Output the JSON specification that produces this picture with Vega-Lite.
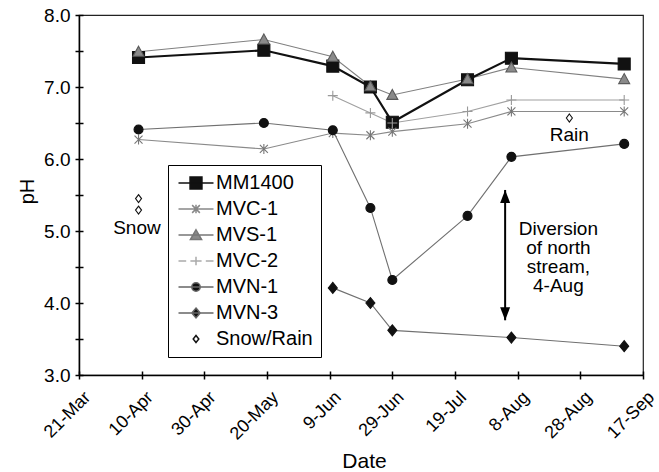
{
  "$schema": "https://vega.github.io/schema/vega-lite/v6.json",
  "width": 564,
  "height": 360,
  "autosize": {"type": "none"},
  "padding": {"left": 79, "top": 15, "right": 16, "bottom": 97},
  "config": {
    "font": "Liberation Sans",
    "view": {"stroke": "#222", "strokeWidth": 1.2},
    "axis": {"grid": false}
  },
  "datasets": {
    "obs": [
      {"date": "2005-04-09T00:00:00", "series": "MM1400", "pH": 7.41},
      {"date": "2005-05-19T00:00:00", "series": "MM1400", "pH": 7.51},
      {"date": "2005-06-10T00:00:00", "series": "MM1400", "pH": 7.29},
      {"date": "2005-06-22T00:00:00", "series": "MM1400", "pH": 7.00},
      {"date": "2005-06-29T00:00:00", "series": "MM1400", "pH": 6.51},
      {"date": "2005-07-23T00:00:00", "series": "MM1400", "pH": 7.10},
      {"date": "2005-08-06T00:00:00", "series": "MM1400", "pH": 7.40},
      {"date": "2005-09-11T00:00:00", "series": "MM1400", "pH": 7.32},
      {"date": "2005-04-09T00:00:00", "series": "MVC-1", "pH": 6.27},
      {"date": "2005-05-19T00:00:00", "series": "MVC-1", "pH": 6.14},
      {"date": "2005-06-10T00:00:00", "series": "MVC-1", "pH": 6.36},
      {"date": "2005-06-22T00:00:00", "series": "MVC-1", "pH": 6.33},
      {"date": "2005-06-29T00:00:00", "series": "MVC-1", "pH": 6.38},
      {"date": "2005-07-23T00:00:00", "series": "MVC-1", "pH": 6.49},
      {"date": "2005-08-06T00:00:00", "series": "MVC-1", "pH": 6.66},
      {"date": "2005-09-11T00:00:00", "series": "MVC-1", "pH": 6.66},
      {"date": "2005-04-09T00:00:00", "series": "MVS-1", "pH": 7.49},
      {"date": "2005-05-19T00:00:00", "series": "MVS-1", "pH": 7.66},
      {"date": "2005-06-10T00:00:00", "series": "MVS-1", "pH": 7.42},
      {"date": "2005-06-22T00:00:00", "series": "MVS-1", "pH": 7.01},
      {"date": "2005-06-29T00:00:00", "series": "MVS-1", "pH": 6.89},
      {"date": "2005-07-23T00:00:00", "series": "MVS-1", "pH": 7.11},
      {"date": "2005-08-06T00:00:00", "series": "MVS-1", "pH": 7.27},
      {"date": "2005-09-11T00:00:00", "series": "MVS-1", "pH": 7.11},
      {"date": "2005-06-10T00:00:00", "series": "MVC-2", "pH": 6.88},
      {"date": "2005-06-22T00:00:00", "series": "MVC-2", "pH": 6.64},
      {"date": "2005-06-29T00:00:00", "series": "MVC-2", "pH": 6.50},
      {"date": "2005-07-23T00:00:00", "series": "MVC-2", "pH": 6.66},
      {"date": "2005-08-06T00:00:00", "series": "MVC-2", "pH": 6.82},
      {"date": "2005-09-11T00:00:00", "series": "MVC-2", "pH": 6.82},
      {"date": "2005-04-09T00:00:00", "series": "MVN-1", "pH": 6.41},
      {"date": "2005-05-19T00:00:00", "series": "MVN-1", "pH": 6.50},
      {"date": "2005-06-10T00:00:00", "series": "MVN-1", "pH": 6.40},
      {"date": "2005-06-22T00:00:00", "series": "MVN-1", "pH": 5.32},
      {"date": "2005-06-29T00:00:00", "series": "MVN-1", "pH": 4.32},
      {"date": "2005-07-23T00:00:00", "series": "MVN-1", "pH": 5.21},
      {"date": "2005-08-06T00:00:00", "series": "MVN-1", "pH": 6.03},
      {"date": "2005-09-11T00:00:00", "series": "MVN-1", "pH": 6.21},
      {"date": "2005-06-10T00:00:00", "series": "MVN-3", "pH": 4.21},
      {"date": "2005-06-22T00:00:00", "series": "MVN-3", "pH": 4.00},
      {"date": "2005-06-29T00:00:00", "series": "MVN-3", "pH": 3.62},
      {"date": "2005-08-06T00:00:00", "series": "MVN-3", "pH": 3.52},
      {"date": "2005-09-11T00:00:00", "series": "MVN-3", "pH": 3.40},
      {"date": "2005-04-09T00:00:00", "series": "Snow/Rain", "pH": 5.45},
      {"date": "2005-04-09T00:00:00", "series": "Snow/Rain", "pH": 5.29},
      {"date": "2005-08-24T12:00:00", "series": "Snow/Rain", "pH": 6.57}
    ],
    "notes": [
      {"date": "2005-04-08T12:00:00", "pH": 4.954, "label": "Snow"},
      {"date": "2005-08-24T12:00:00", "pH": 6.254, "label": "Rain"},
      {"date": "2005-08-21T00:00:00", "pH": 4.94, "label": "Diversion\nof north\nstream,\n4-Aug"}
    ],
    "arrow": [
      {"date": "2005-08-04T00:00:00", "top": 5.57, "bottom": 3.76}
    ]
  },
  "layer": [
    {
      "data": {"name": "obs"},
      "transform": [{"filter": "datum.series !== 'MM1400' && datum.series !== 'Snow/Rain'"}],
      "mark": {"type": "line", "strokeWidth": 1.1},
      "encoding": {
        "x": {
          "field": "date", "type": "temporal",
          "scale": {"domain": [{"year": 2005, "month": 3, "date": 21}, {"year": 2005, "month": 9, "date": 17}], "nice": false},
          "axis": {
            "orient": "bottom",
            "values": [
              {"year": 2005, "month": 3, "date": 21},
              {"year": 2005, "month": 4, "date": 10},
              {"year": 2005, "month": 4, "date": 30},
              {"year": 2005, "month": 5, "date": 20},
              {"year": 2005, "month": 6, "date": 9},
              {"year": 2005, "month": 6, "date": 29},
              {"year": 2005, "month": 7, "date": 19},
              {"year": 2005, "month": 8, "date": 8},
              {"year": 2005, "month": 8, "date": 28},
              {"year": 2005, "month": 9, "date": 17}
            ],
            "format": "%-d-%b",
            "labelAngle": -45,
            "labelAlign": "right",
            "labelBaseline": "top",
            "labelOffset": 2,
            "labelPadding": 9,
            "labelFontSize": 18,
            "labelColor": "black",
            "labelFlush": false,
            "labelOverlap": false,
            "labelBound": false,
            "tickSize": 4,
            "tickWidth": 1.5,
            "tickColor": "black",
            "domainColor": "black",
            "domainWidth": 1.5,
            "title": "Date",
            "titleFontSize": 21,
            "titleFontWeight": "normal",
            "titleColor": "black",
            "titleX": 285,
            "titleY": 92,
            "titleAlign": "center",
            "titleBaseline": "alphabetic"
          }
        },
        "y": {
          "field": "pH", "type": "quantitative",
          "scale": {"domain": [3, 8], "nice": false, "zero": false},
          "axis": {
            "orient": "left",
            "values": [3, 3.5, 4, 4.5, 5, 5.5, 6, 6.5, 7, 7.5, 8],
            "labelExpr": "datum.value % 1 === 0 ? format(datum.value, '.1f') : ''",
            "labelFontSize": 19,
            "labelColor": "black",
            "labelPadding": 5,
            "labelBaseline": "middle",
            "tickSize": 4,
            "tickWidth": 1.5,
            "tickColor": "black",
            "domainColor": "black",
            "domainWidth": 1.5,
            "title": "pH",
            "titleFontSize": 20,
            "titleFontWeight": "normal",
            "titleColor": "black",
            "titleAngle": -90,
            "titleX": -46,
            "titleY": 176,
            "titleAlign": "center",
            "titleBaseline": "alphabetic"
          }
        },
        "detail": {"field": "series", "type": "nominal"},
        "stroke": {
          "field": "series", "type": "nominal",
          "scale": {"domain": ["MVC-1", "MVS-1", "MVC-2", "MVN-1", "MVN-3"], "range": ["#8a8a8a", "#808080", "#a0a0a0", "#707070", "#707070"]},
          "legend": null
        }
      }
    },
    {
      "data": {"name": "obs"},
      "transform": [{"filter": "datum.series === 'MM1400'"}],
      "mark": {"type": "line", "stroke": "#111", "strokeWidth": 2.2},
      "encoding": {
        "x": {"field": "date", "type": "temporal", "axis": null},
        "y": {"field": "pH", "type": "quantitative", "axis": null}
      }
    },
    {
      "data": {"name": "obs"},
      "mark": {"type": "point", "filled": true, "size": 100, "strokeWidth": 1.1, "opacity": 1},
      "encoding": {
        "x": {"field": "date", "type": "temporal", "axis": null},
        "y": {"field": "pH", "type": "quantitative", "axis": null},
        "shape": {
          "field": "series", "type": "nominal", "legend": null,
          "scale": {
            "domain": ["MM1400", "MVC-1", "MVS-1", "MVC-2", "MVN-1", "MVN-3", "Snow/Rain"],
            "range": [
              "M-1.2,-1.2H1.2V1.2H-1.2Z",
              "M-0.8,-0.8L0.8,0.8M-0.8,0.8L0.8,-0.8M0,-1V1",
              "M0,-1.1L1.1,0.9H-1.1Z",
              "M-1,0H1M0,-1V1",
              "M0.9,0A0.9,0.9 0 1,1 -0.9,0A0.9,0.9 0 1,1 0.9,0Z",
              "M0,-1.1L0.9,0L0,1.1L-0.9,0Z",
              "M0,-0.8L0.6,0L0,0.8L-0.6,0Z"
            ]
          }
        },
        "fill": {
          "field": "series", "type": "nominal", "legend": null,
          "scale": {
            "domain": ["MM1400", "MVC-1", "MVS-1", "MVC-2", "MVN-1", "MVN-3", "Snow/Rain"],
            "range": ["#111", "#777", "#8a8a8a", "#999", "#111", "#111", "white"]
          }
        },
        "stroke": {
          "field": "series", "type": "nominal", "legend": null,
          "scale": {
            "domain": ["MM1400", "MVC-1", "MVS-1", "MVC-2", "MVN-1", "MVN-3", "Snow/Rain"],
            "range": ["#111", "#777", "#5a5a5a", "#999", "#111", "#111", "#111"]
          }
        }
      }
    },
    {
      "data": {"name": "obs"},
      "mark": {"type": "point", "filled": true, "size": 196, "opacity": 0},
      "encoding": {
        "x": {"field": "date", "type": "temporal", "axis": null},
        "y": {"field": "pH", "type": "quantitative", "axis": null},
        "shape": {
          "field": "series", "type": "nominal",
          "scale": {
            "domain": ["MM1400", "MVC-1", "MVS-1", "MVC-2", "MVN-1", "MVN-3", "Snow/Rain"],
            "range": [
              "M-2.5,0H2.5M-0.85,-0.85H0.85V0.85H-0.85Z",
              "M-2.5,0H2.5M-0.55,-0.55L0.55,0.55M-0.55,0.55L0.55,-0.55M0,-0.6V0.6",
              "M-2.5,0H2.5M0,-0.75L0.8,0.65H-0.8Z",
              "M-2.5,0H-1.4M-0.8,0H0.8M1.4,0H2.5M0,-0.6V0.6",
              "M-2.5,0H2.5M0.6,0A0.6,0.6 0 1,1 -0.6,0A0.6,0.6 0 1,1 0.6,0Z",
              "M-2.5,0H2.5M0,-0.7L0.6,0L0,0.7L-0.6,0Z",
              "M0,-0.5L0.4,0L0,0.5L-0.4,0Z"
            ]
          },
          "legend": {
            "orient": "none", "legendX": 89, "legendY": 150, "title": null,
            "padding": 8, "strokeColor": "black", "fillColor": "white",
            "labelFontSize": 20, "labelColor": "black", "labelOffset": 10, "labelLimit": 300,
            "symbolOffset": 10, "symbolSize": 196, "symbolStrokeWidth": 1.5,
            "symbolOpacity": 1, "rowPadding": 6
          }
        },
        "fill": {
          "field": "series", "type": "nominal",
          "scale": {
            "domain": ["MM1400", "MVC-1", "MVS-1", "MVC-2", "MVN-1", "MVN-3", "Snow/Rain"],
            "range": ["#111", "#888", "#8a8a8a", "#aaa", "#111", "#111", "white"]
          },
          "legend": {
            "orient": "none", "legendX": 89, "legendY": 150, "title": null,
            "padding": 8, "strokeColor": "black", "fillColor": "white",
            "labelFontSize": 20, "labelColor": "black", "labelOffset": 10, "labelLimit": 300,
            "symbolOffset": 10, "symbolSize": 196, "symbolStrokeWidth": 1.5,
            "symbolOpacity": 1, "rowPadding": 6
          }
        },
        "stroke": {
          "field": "series", "type": "nominal",
          "scale": {
            "domain": ["MM1400", "MVC-1", "MVS-1", "MVC-2", "MVN-1", "MVN-3", "Snow/Rain"],
            "range": ["#111", "#888", "#777", "#aaa", "#666", "#666", "#111"]
          },
          "legend": {
            "orient": "none", "legendX": 89, "legendY": 150, "title": null,
            "padding": 8, "strokeColor": "black", "fillColor": "white",
            "labelFontSize": 20, "labelColor": "black", "labelOffset": 10, "labelLimit": 300,
            "symbolOffset": 10, "symbolSize": 196, "symbolStrokeWidth": 1.5,
            "symbolOpacity": 1, "rowPadding": 6
          }
        }
      }
    },
    {
      "data": {"name": "notes"},
      "mark": {"type": "text", "fontSize": 19, "align": "center", "baseline": "alphabetic", "lineBreak": "\n", "lineHeight": 19, "color": "black"},
      "encoding": {
        "x": {"field": "date", "type": "temporal", "axis": null},
        "y": {"field": "pH", "type": "quantitative", "axis": null},
        "text": {"field": "label", "type": "nominal"}
      }
    },
    {
      "data": {"name": "arrow"},
      "mark": {"type": "rule", "stroke": "black", "strokeWidth": 2},
      "encoding": {
        "x": {
          "field": "date", "type": "temporal",
          "axis": {
            "orient": "bottom",
            "values": [
              {"year": 2005, "month": 3, "date": 21},
              {"year": 2005, "month": 4, "date": 10},
              {"year": 2005, "month": 4, "date": 30},
              {"year": 2005, "month": 5, "date": 20},
              {"year": 2005, "month": 6, "date": 9},
              {"year": 2005, "month": 6, "date": 29},
              {"year": 2005, "month": 7, "date": 19},
              {"year": 2005, "month": 8, "date": 8},
              {"year": 2005, "month": 8, "date": 28},
              {"year": 2005, "month": 9, "date": 17}
            ],
            "labels": false, "domain": false, "title": null,
            "tickSize": -4, "tickWidth": 1.5, "tickColor": "black"
          }
        },
        "y": {
          "field": "top", "type": "quantitative",
          "axis": {
            "orient": "left",
            "values": [3, 3.5, 4, 4.5, 5, 5.5, 6, 6.5, 7, 7.5, 8],
            "labels": false, "domain": false, "title": null,
            "tickSize": -4, "tickWidth": 1.5, "tickColor": "black"
          }
        },
        "y2": {"field": "bottom"}
      }
    },
    {
      "data": {"name": "arrow"},
      "mark": {"type": "point", "filled": true, "size": 100, "color": "black", "opacity": 1, "shape": "M0,0L1,2.6L-1,2.6Z"},
      "encoding": {
        "x": {"field": "date", "type": "temporal", "axis": null},
        "y": {"field": "top", "type": "quantitative", "axis": null}
      }
    },
    {
      "data": {"name": "arrow"},
      "mark": {"type": "point", "filled": true, "size": 100, "color": "black", "opacity": 1, "shape": "M0,0L1,-2.6L-1,-2.6Z"},
      "encoding": {
        "x": {"field": "date", "type": "temporal", "axis": null},
        "y": {"field": "bottom", "type": "quantitative", "axis": null}
      }
    }
  ],
  "resolve": {
    "scale": {"shape": "independent", "fill": "independent", "stroke": "independent"},
    "axis": {"x": "independent", "y": "independent"}
  }
}
